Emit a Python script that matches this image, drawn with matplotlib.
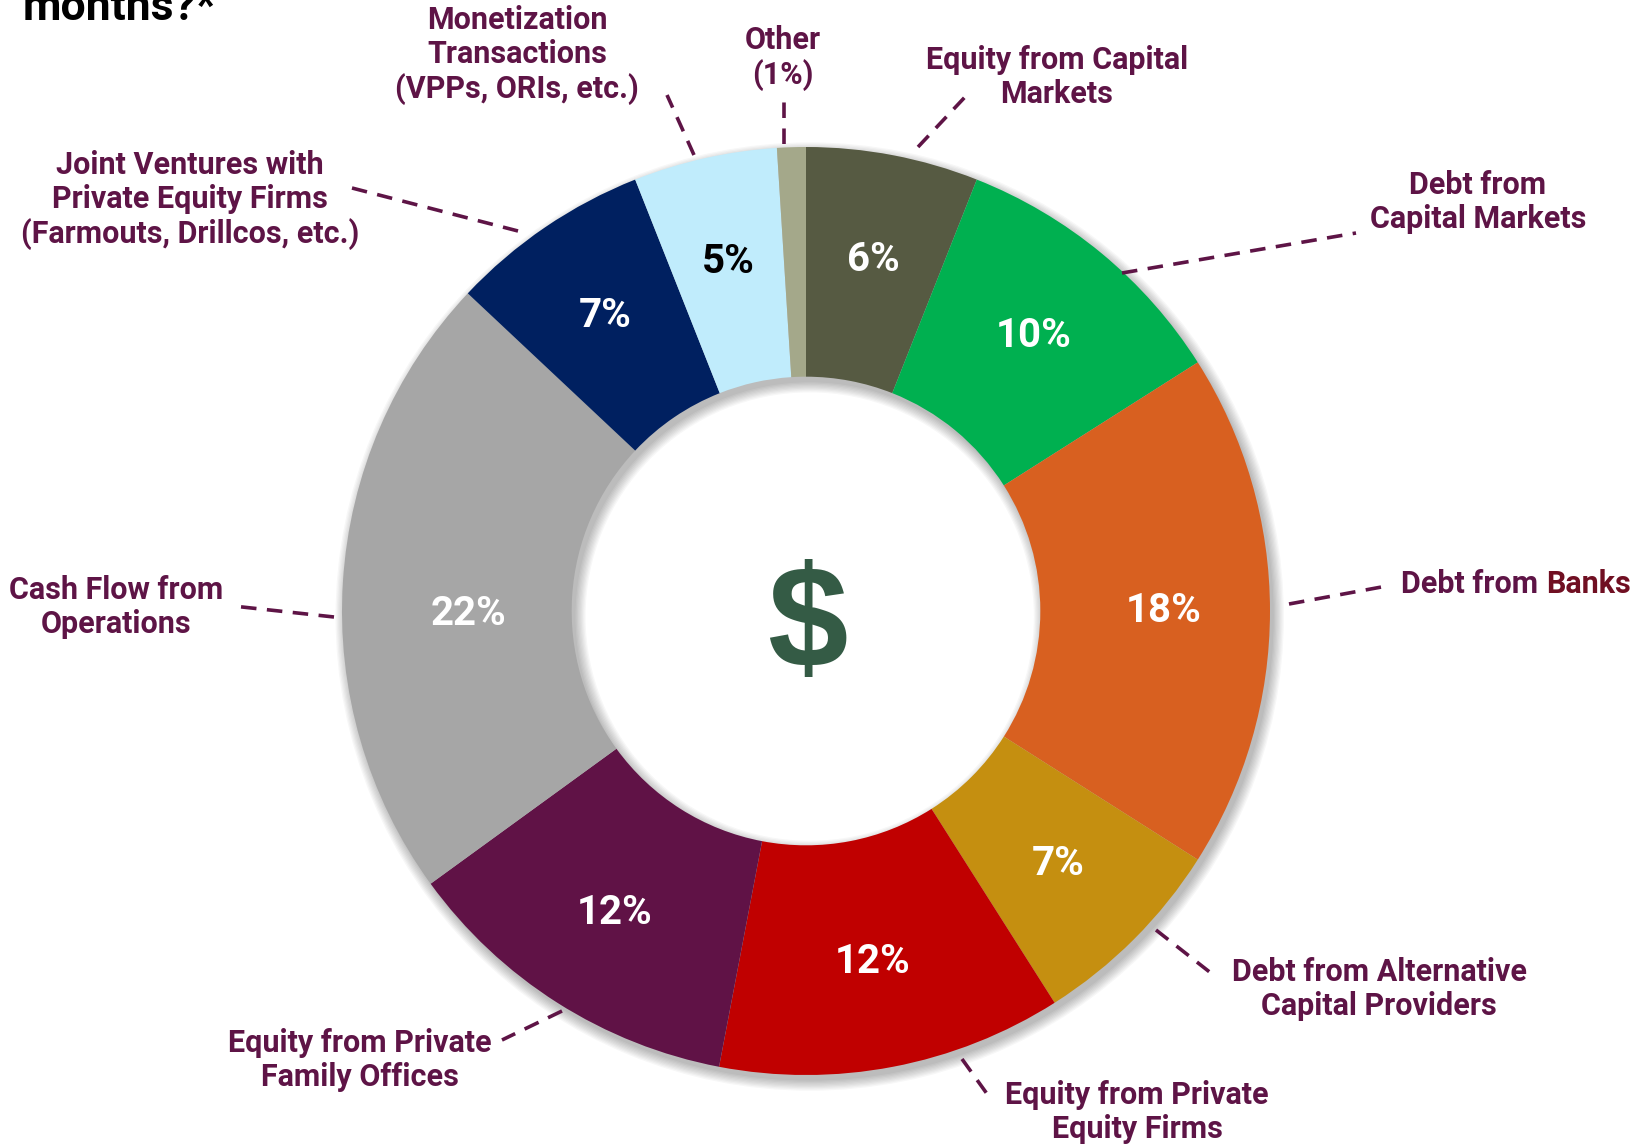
import matplotlib.pyplot as plt
from matplotlib.patches import Wedge
import numpy as np

plt.rcParams['font.family'] = ['Roboto', 'DejaVu Sans']

# data (clockwise from 12 o'clock)
sources = [
    "Equity from Capital\nMarkets",
    "Debt from\nCapital Markets",
    "Debt from Banks",
    "Debt from Alternative\nCapital Providers",
    "Equity from Private\nEquity Firms",
    "Equity from Private\nFamily Offices",
    "Cash Flow from\nOperations",
    "Joint Ventures with\nPrivate Equity Firms\n(Farmouts, Drillcos, etc.)",
    "Monetization\nTransactions\n(VPPs, ORIs, etc.)",
    "Other\n(1%)",
]
shares = [6, 10, 18, 7, 12, 12, 22, 7, 5, 1]
colors = ["#565A42", "#00B050", "#D86020", "#C58F10", "#C00000",
          "#601246", "#A6A6A6", "#002060", "#C0ECFC", "#A4A88A"]
pct_colors = ["white"] * 8 + ["black", "white"]

label_color = "#5E1446"
banks_color = "#700F22"

# pixel layout of the outside labels: text centre, leader start, leader end
label_pos = [(1057, 77), (1478, 202), (1401, 584), (1379, 989), (1137, 1112),
             (360, 1060), (116, 607), (190, 200), (517, 55), (783, 58)]
leader_start = [(918, 147), (1122, 273), (1289, 604), (1156, 930), (962, 1059),
                (562, 1011), (334, 617), (518, 231), (694, 155), (784, 144)]
leader_end = [(965, 97), (1356, 233), (1387, 586), (1216, 977), (990, 1098),
              (502, 1040), (233, 606), (352, 188), (667, 95), (784, 102)]

W, H = 1648, 1146
CX, CY, R = 806, 611, 464


def P(x, y):
    return (x - CX) / R, (CY - y) / R


fig = plt.figure(figsize=(W / 100, H / 100), dpi=100)
ax = fig.add_axes([0, 0, 1, 1])

ring = 0.495

# soft shadow under the ring
for s in np.linspace(0, 0.022, 9):
    ax.add_patch(Wedge((0.008, -0.012), 1 + s, 0, 360, width=ring + 2 * s,
                       color="black", alpha=0.03, lw=0, zorder=0.5))

wedges, texts, autotexts = ax.pie(
    shares, colors=colors, startangle=90, counterclock=False, radius=1,
    wedgeprops=dict(width=ring, linewidth=0),
    autopct=lambda p: f"{p:.0f}%" if p > 2 else "",
    pctdistance=0.77,
    textprops=dict(fontsize=29, fontweight="bold"),
)
for t, c in zip(autotexts, pct_colors):
    t.set_color(c)
# the big grey slice carries its label a little lower
autotexts[6].set_position(P(469, 614))

# outside labels with dashed leaders
for i, name in enumerate(sources):
    x0, y0 = P(*leader_start[i])
    x1, y1 = P(*leader_end[i])
    ax.plot([x0, x1], [y0, y1], color=label_color, lw=2.6,
            linestyle=(0, (4.3, 2.9)), solid_capstyle="butt")
    tx, ty = P(*label_pos[i])
    if name == "Debt from Banks":
        t1 = ax.text(tx, ty, "Debt from ", ha="left", va="center",
                     fontsize=22, fontweight="bold", color=label_color)
        ax.annotate("Banks", xy=(1, 0), xycoords=t1, ha="left", va="bottom",
                    fontsize=22, fontweight="bold", color=banks_color)
    else:
        ax.text(tx, ty, name, ha="center", va="center", multialignment="center",
                fontsize=22, fontweight="bold", color=label_color,
                linespacing=1.18)

# dollar sign in the hole
ax.text(*P(807, 628), "$", ha="center", va="center", fontsize=104,
        fontweight="bold", family="Liberation Sans", color="#345B45")

# title (only last line visible)
ax.text(*P(23, 20), "months?*", ha="left", va="baseline", fontsize=32,
        fontweight="bold", color="black")

ax.set_xlim(-CX / R, (W - CX) / R)
ax.set_ylim((CY - H) / R, CY / R)
ax.set_aspect("auto")
ax.axis("off")

fig.savefig("out.png", dpi=100)
